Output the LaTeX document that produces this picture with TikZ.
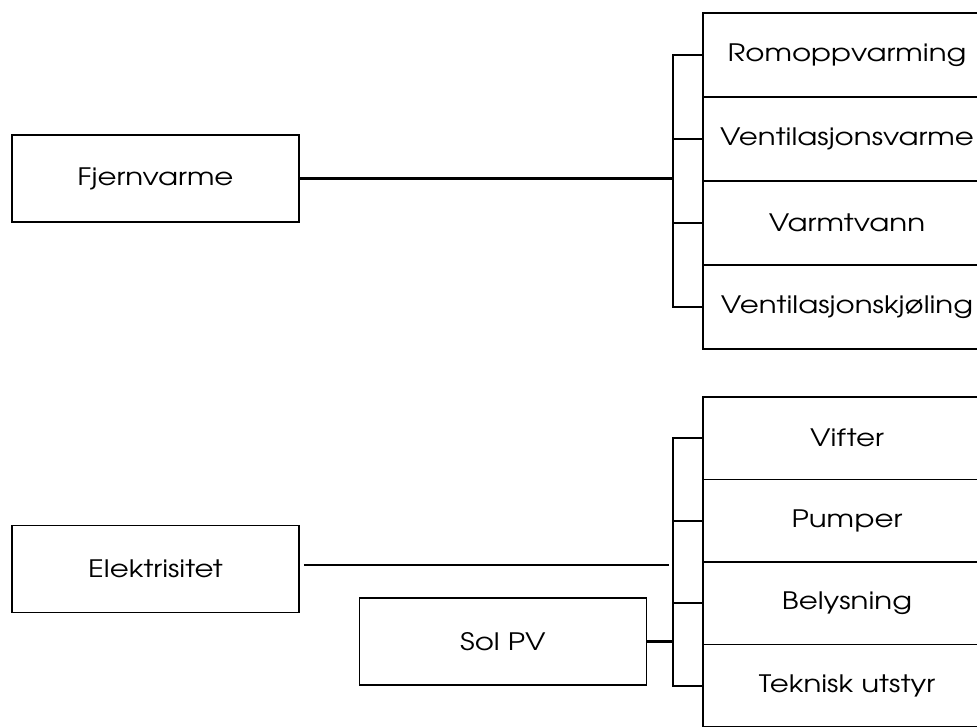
\documentclass[tikz,border=0pt]{standalone}
\usepackage{fontspec}
\setmainfont[FakeStretch=1.22]{TeX Gyre Adventor}
\usepackage{tikz}

\tikzset{
  source/.style={draw,line width=1.6pt,minimum width=287pt,minimum height=87pt,font=\fontsize{24}{28}\selectfont},
  usebox/.style={draw,line width=1.6pt,minimum width=288pt,font=\fontsize{24}{28}\selectfont},
  bus/.style={line width=2.1pt}
}

\begin{document}
\begin{tikzpicture}[x=1pt,y=-1pt]
      \useasboundingbox (0,0) rectangle (977,726);
      \clip (0,0) rectangle (977,726);

      \node[source](fjern) at (155.5,178.5) {Fjernvarme};
      \node[source](elek) at (155.5,569) {Elektrisitet};
      \node[source](solpv) at (503,641.5) {Sol PV};

      % varme side
      \coordinate (topbus) at (673,178.5);
      \foreach \n/\y/\txt in {rom/55/Romoppvarming, venv/139/Ventilasjonsvarme,
                              vv/223/Varmtvann, venk/307/Ventilasjonskjøling} {
        \node[usebox,minimum height=84pt](\n) at (847,\y) {\txt};
        \draw[bus] (\n.west) -| (topbus);
      }
      \draw[bus] (fjern.east) -- (topbus);

      % el side
      \coordinate (botbus) at (673,641.5);
      \coordinate (elend) at (669,565);
      \foreach \n/\y/\txt in {vift/438.25/Vifter, pump/520.75/Pumper,
                              bely/603.25/Belysning, tek/685.75/Teknisk utstyr} {
        \node[usebox,minimum height=82.5pt](\n) at (847,\y) {\txt};
        \draw[bus] (\n.west) -| (botbus);
      }
      \draw[bus] (solpv.east) -- (botbus);
      \draw[line width=1.2pt] ([xshift=4pt]elek.east |- elend) -- (elend);
\end{tikzpicture}
\end{document}
